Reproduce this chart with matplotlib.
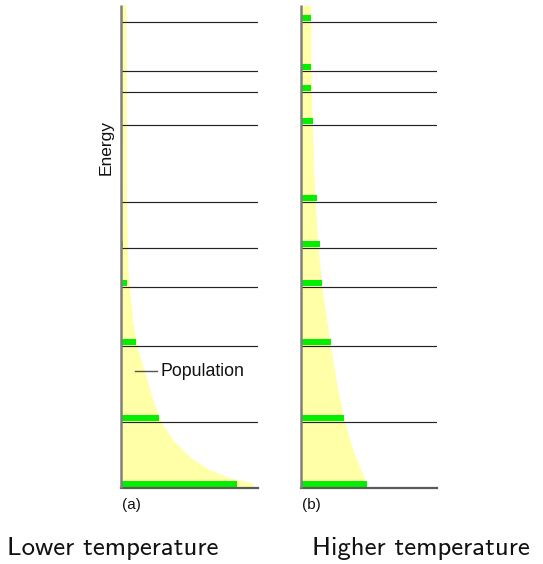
import matplotlib
matplotlib.use("Agg")
import matplotlib.pyplot as plt

# energy of each level, measured up from the ground level
levels = [0, 66, 142, 201, 240, 286, 363, 396, 417, 466]

# population of each level (bar length)
pop_low = [116, 38, 14.5, 6.3, 1.5, 0.8, 0.3, 0.2, 0.1, 0.05]
pop_high = [65.5, 43.3, 29.5, 21.3, 18.5, 15.5, 11.5, 10, 10.3, 9.6]

# outline of the yellow distribution
curve_low_e = [0, 5, 10, 18, 31, 48, 66, 88, 115, 141, 165, 198, 218, 288, 483]
curve_low_w = [132, 132, 109, 89, 69, 52, 40, 32, 24, 16, 12, 8.7, 7, 5.5, 5]
curve_high_e = [0, 5, 38, 66, 105, 142, 201, 238, 288, 363, 418, 483]
curve_high_w = [66, 65.3, 52, 43.5, 35.7, 29.5, 21, 17.3, 14, 11.3, 10, 9.7]

panel_labels = ["(a)", "(b)"]
captions = ["Lower temperature", "Higher temperature"]

W, H = 543, 564
YELLOW = "#ffffa8"
GREEN = "#00f000"


def panel(fig, left_px, width_px, pops, ce, cw):
    # axes in pixel-like units: 1 data unit = 1 px
    ax = fig.add_axes([left_px / W, (H - 488) / H, width_px / W, 483 / H])
    ax.set_xlim(0, width_px)
    ax.set_ylim(0, 483)
    ax.axis("off")

    # distribution
    ax.fill_betweenx(ce, 0, cw, color=YELLOW, lw=0, zorder=1)

    # populations
    ax.barh([e + 4 for e in levels], pops, height=6, left=0, color=GREEN,
            lw=0, zorder=2)

    # energy levels
    for e in levels[1:]:
        ax.plot([0, width_px], [e, e], color="#222222", lw=0.85, zorder=3)
    ax.plot([0, width_px], [0, 0], color="#5a5a5a", lw=1.6, zorder=3,
            clip_on=False)

    # energy axis
    ax.plot([0, 0], [0, 483], color="#808080", lw=1.8, zorder=4,
            clip_on=False, solid_capstyle="butt")
    return ax


fig = plt.figure(figsize=(W / 100, H / 100), dpi=100)

ax_a = panel(fig, 121, 137, pop_low, curve_low_e, curve_low_w)
ax_b = panel(fig, 301, 136, pop_high, curve_high_e, curve_high_w)

lab = dict(family="Liberation Sans", color="#111111")
fig.text(106.5 / W, 1 - 147.5 / H, "Energy", rotation=90, ha="center",
         va="center", fontsize=12.5, **lab)

# population key
ax_a.plot([14, 36], [117, 117], color="#555555", lw=1.0, zorder=5)
ax_a.text(40, 117, "Population", ha="left", va="center", fontsize=12.8,
          zorder=5, **lab)

fig.text(131 / W, 1 - 505 / H, panel_labels[0], ha="center", va="center",
         fontsize=11, **lab)
fig.text(311 / W, 1 - 505 / H, panel_labels[1], ha="center", va="center",
         fontsize=11, **lab)

fig.text(113 / W, 1 - 549 / H, captions[0], ha="center", va="center",
         fontsize=19.3, family="cmss10", color="#111111")
fig.text(421 / W, 1 - 549 / H, captions[1], ha="center", va="center",
         fontsize=19.3, family="cmss10", color="#111111")

fig.savefig("out.png", dpi=100, facecolor="white")
